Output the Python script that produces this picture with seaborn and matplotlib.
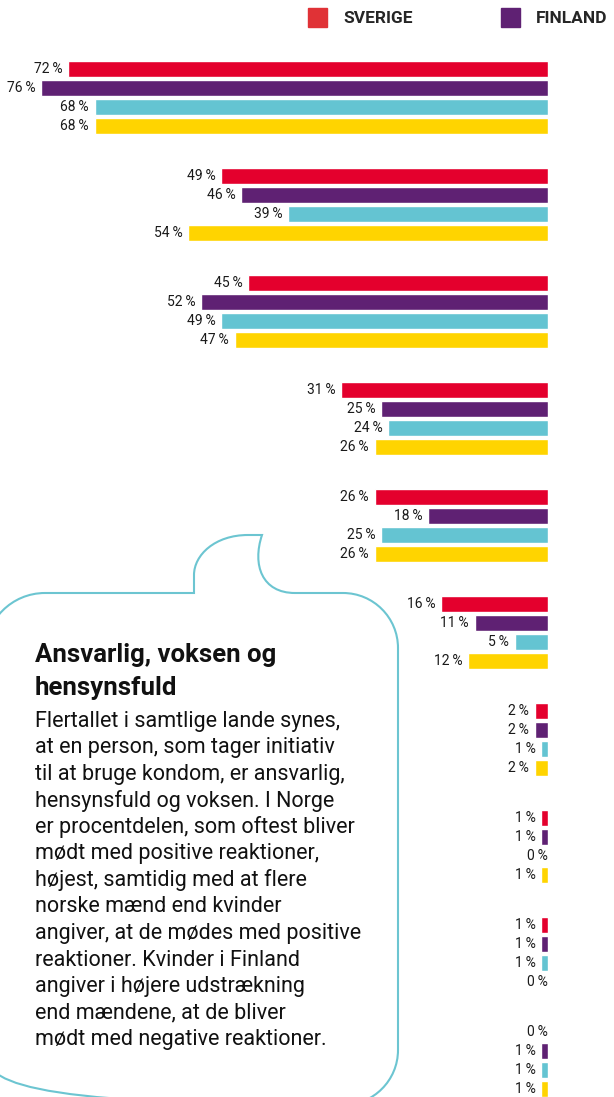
import pandas as pd
import seaborn as sns
import matplotlib.pyplot as plt
from matplotlib.path import Path
from matplotlib.patches import PathPatch, Patch

# data (percent per answer, per country)
categories = ["Svar 1", "Svar 2", "Svar 3", "Svar 4", "Svar 5",
              "Svar 6", "Svar 7", "Svar 8", "Svar 9", "Svar 10"]
countries = ["SVERIGE", "FINLAND", "DANMARK", "NORGE"]
sverige = [72, 49, 45, 31, 26, 16, 2, 1, 1, 0]
finland = [76, 46, 52, 25, 18, 11, 2, 1, 1, 1]
danmark = [68, 39, 49, 24, 25, 5, 1, 0, 1, 1]
norge = [68, 54, 47, 26, 26, 12, 2, 1, 0, 1]
colors = ["#E4002D", "#5F2173", "#64C4D2", "#FFD400"]

title_lines = ["Ansvarlig, voksen og", "hensynsfuld"]
body_lines = [
    "Flertallet i samtlige lande synes,",
    "at en person, som tager initiativ",
    "til at bruge kondom, er ansvarlig,",
    "hensynsfuld og voksen. I Norge",
    "er procentdelen, som oftest bliver",
    "mødt med positive reaktioner,",
    "højest, samtidig med at flere",
    "norske mænd end kvinder",
    "angiver, at de mødes med positive",
    "reaktioner. Kvinder i Finland",
    "angiver i højere udstrækning",
    "end mændene, at de bliver",
    "mødt med negative reaktioner.",
]

df = pd.DataFrame({
    "kategori": categories * 4,
    "land": [c for c in countries for _ in categories],
    "pct": sverige + finland + danmark + norge,
})

sns.set_style("white")
plt.rcParams["font.family"] = ["Roboto", "DejaVu Sans"]

W, H = 614, 1097
fig = plt.figure(figsize=(W / 100, H / 100), dpi=100)
ax = fig.add_axes([0, 0, 548 / W, 1])

sns.barplot(data=df, y="kategori", x="pct", hue="land", hue_order=countries,
            palette=colors, saturation=1, orient="h", width=0.71, gap=0.16,
            legend=False, ax=ax)
ax.set_xlim(82.2, 0)
ax.set_ylim(9.341, -0.911)
ax.axis("off")

for cont in ax.containers:
    for bar in cont:
        v = int(round(bar.get_width()))
        yc = bar.get_y() + bar.get_height() / 2
        ax.annotate(f"{v}\u2009%", (bar.get_width(), yc),
                    xytext=(-4 if v > 0 else 0, 0), textcoords="offset points",
                    ha="right", va="center", fontsize=10, color="#1a1a1a")

# legend (only the first two entries fit in the picture)
handles = [Patch(color="#E03236"), Patch(color=colors[1])]
fig.legend(handles, countries[:2], loc="upper left",
           bbox_to_anchor=(308 / W, 1 - 8 / H), ncol=2, frameon=False,
           borderpad=0, borderaxespad=0, handlelength=1.09, handleheight=1.3,
           handletextpad=0.92, columnspacing=5.1,
           prop={"weight": "bold", "size": 12.5})

# speech bubble + text box
ov = fig.add_axes([0, 0, 1, 1])
ov.set_xlim(0, W)
ov.set_ylim(H, 0)
ov.axis("off")

L, T, R, B = -15, 593, 398, 1105
k = 0.5523
r1, r = 60, 55
verts = [
    (L, B - r), (L, T + r1),
    (L, T + r1 - k * r1), (L + r1 - k * r1, T), (L + r1, T),
    (194, T), (194, 575),
    (194, 555), (215, 535), (248, 535),
    (262, 535),
    (252, 565), (262, 593), (295, 593),
    (R - r, T),
    (R - r + k * r, T), (R, T + r - k * r), (R, T + r),
    (R, B - r),
    (R, B - r + k * r), (R - r + k * r, B), (R - r, B),
    (L + r, B),
    (L + r - k * r, B), (L, B - r + k * r), (L, B - r),
]
codes = [Path.MOVETO, Path.LINETO,
         Path.CURVE4, Path.CURVE4, Path.CURVE4,
         Path.LINETO, Path.LINETO,
         Path.CURVE4, Path.CURVE4, Path.CURVE4,
         Path.LINETO,
         Path.CURVE4, Path.CURVE4, Path.CURVE4,
         Path.LINETO,
         Path.CURVE4, Path.CURVE4, Path.CURVE4,
         Path.LINETO,
         Path.CURVE4, Path.CURVE4, Path.CURVE4,
         Path.LINETO,
         Path.CURVE4, Path.CURVE4, Path.CURVE4]
ov.add_patch(PathPatch(Path(verts, codes), facecolor="none",
                       edgecolor="#6CC5D1", lw=1.5))

for i, line in enumerate(title_lines):
    ov.text(35, 662 + i * 33, line, fontsize=18.5, fontweight="bold",
            color="#111111", va="baseline")
for i, line in enumerate(body_lines):
    ov.text(35, 727 + i * 26.5, line, fontsize=15.5, color="#111111",
            va="baseline")

fig.savefig("out.png", dpi=100)
